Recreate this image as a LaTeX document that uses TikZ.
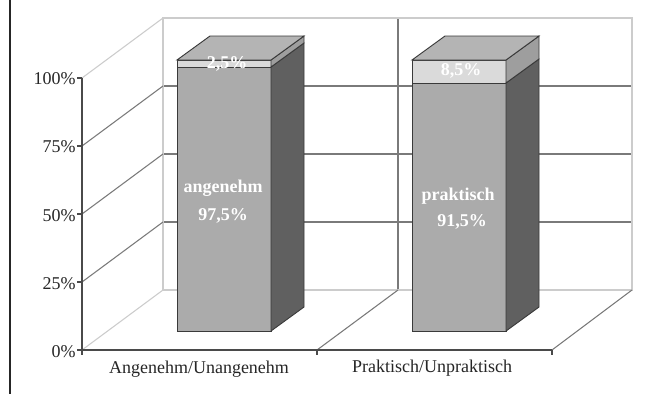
\documentclass[tikz,border=0pt]{standalone}
\usepackage{fontspec}
\setmainfont{Liberation Serif}
\definecolor{topc}{HTML}{B4B4B4}
\definecolor{frontc}{HTML}{ABABAB}
\definecolor{sidec}{HTML}{606060}
\definecolor{segc}{HTML}{DADADA}
\definecolor{segsidec}{HTML}{9E9E9E}
\definecolor{lightgrid}{HTML}{CCCCCC}
\definecolor{midgrid}{HTML}{7A7A7A}
\definecolor{axisc}{HTML}{4A4A4A}
\definecolor{edgec}{HTML}{3A3A3A}
\newcommand\chartbar[2]{%
  \filldraw[barline,fill=frontc] (#1,#2) rectangle (#1+94,331);
  \filldraw[barline,fill=segc] (#1,60) rectangle (#1+94,#2);
  \filldraw[barline,fill=sidec] (#1+94,#2) -- (#1+127,#2-24) -- (#1+127,307) -- (#1+94,331) -- cycle;
  \filldraw[barline,fill=segsidec] (#1+94,60) -- (#1+127,36) -- (#1+127,#2-24) -- (#1+94,#2) -- cycle;
  \filldraw[barline,fill=topc] (#1,60) -- (#1+33,36) -- (#1+127,36) -- (#1+94,60) -- cycle;
}
\tikzset{
  barline/.style={draw=edgec, line width=0.7pt},
  lgrid/.style={draw=lightgrid, line width=0.8pt},
  mgrid/.style={draw=midgrid, line width=0.8pt},
  axisline/.style={draw=axisc, line width=0.8pt},
  ticklabel/.style={anchor=east, inner sep=0pt, text=black!85},
  catlabel/.style={inner sep=0pt, text=black!85},
  barlabel/.style={inner sep=0pt, text=white, font=\fontsize{13.5}{16}\selectfont\bfseries},
}
\begin{document}
\begin{tikzpicture}[x=0.75pt,y=-0.75pt,font=\fontsize{13.5}{16}\selectfont]
\useasboundingbox (0,0) rectangle (667,394);
\fill[white] (0,0) rectangle (667,394);
% left border
\draw[draw=black!85, line width=0.8pt] (10,0) -- (10,394);
% back wall
\draw[mgrid] (163,86) -- (632,86);
\draw[mgrid] (163,154) -- (632,154);
\draw[mgrid] (163,222) -- (632,222);
\draw[mgrid] (398,18) -- (398,290);
\draw[lgrid] (163,290) -- (163,18) -- (632,18) -- (632,290) -- (163,290);
% side wall diagonals
\draw[lgrid] (82,78) -- (163,18);
\draw[mgrid] (82,146) -- (163,86);
\draw[mgrid] (82,214) -- (163,154);
\draw[mgrid] (82,282) -- (163,222);
\draw[lgrid] (82,350) -- (163,290);
% floor
\draw[mgrid] (317,350) -- (398,290);
\draw[mgrid] (552,350) -- (632,290);
% axes
\draw[axisline] (82,78) -- (82,350) -- (552,350);
\foreach \yy in {78,146,214,282,350} \draw[axisline] (77,\yy) -- (82,\yy);
\foreach \xx in {82,317,552} \draw[axisline] (\xx,350) -- (\xx,355);
% bars
\chartbar{177}{67}
\chartbar{412}{83}
% tick labels
\node[ticklabel] (t100) at (76,79) {100\%};
\node[ticklabel] (t75) at (76,147) {75\%};
\node[ticklabel] (t50) at (76,216) {50\%};
\node[ticklabel] (t25) at (76,284) {25\%};
\node[ticklabel] (t0) at (76,352) {0\%};
% category labels
\node[catlabel] (c1) at (199,369) {Angenehm/Unangenehm};
\node[catlabel] (c2) at (432,368) {Praktisch/Unpraktisch};
% bar labels
\node[barlabel] (s1) at (227,64) {2,5\%};
\node[barlabel] (a1) at (223,188) {angenehm};
\node[barlabel] (v1) at (223,216) {97,5\%};
\node[barlabel] (s2) at (461,71) {8,5\%};
\node[barlabel] (a2) at (458,196) {praktisch};
\node[barlabel] (v2) at (462,222) {91,5\%};
\end{tikzpicture}
\end{document}
